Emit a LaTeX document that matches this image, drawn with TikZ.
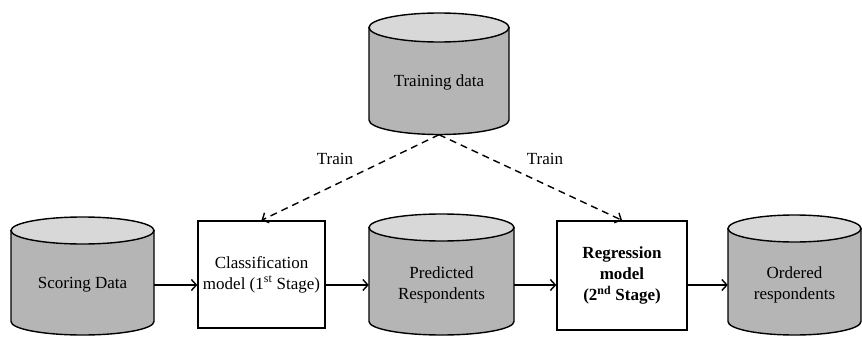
\documentclass[tikz,border=0pt]{standalone}
\usepackage{fontspec}
\setmainfont{Liberation Serif}
\usetikzlibrary{arrows.meta}
\definecolor{bodygray}{RGB}{181,181,181}
\definecolor{topgray}{RGB}{216,216,216}
\newcommand\drawcyl[5]{% cx, top-ellipse centre y, bottom-ellipse centre y, rx, ry
  \path[cylbody] (#1-#4,#2) -- (#1-#4,#3) arc[start angle=180,end angle=360,x radius=#4pt,y radius=#5pt] -- (#1+#4,#2) -- cycle;
  \path[cyltop] (#1,#2) ellipse[x radius=#4pt,y radius=#5pt];
}
\begin{document}
\begin{tikzpicture}[x=1pt,y=-1pt,
  cylbody/.style={draw=black,line width=1.4pt,fill=bodygray},
  cyltop/.style={draw=black,line width=1.4pt,fill=topgray},
  txt/.style={font=\fontsize{17}{21}\selectfont,align=center,inner sep=0pt,text=black},
  cyltext/.style={txt,minimum height=20pt},
  modelbox/.style={txt,draw=black,line width=1.4pt,fill=white},
  flow/.style={line width=1.4pt,-{Straight Barb[length=5pt,width=11pt,line width=1.4pt]}},
  trainflow/.style={flow,dash pattern=on 7pt off 5pt}]
\useasboundingbox (0,0) rectangle (862,337);
\drawcyl{439}{27.5}{120}{70}{14.5}
\drawcyl{82.5}{230.5}{321.5}{71.5}{13.5}
\drawcyl{441.5}{227.5}{321.5}{72.5}{13.5}
\drawcyl{794.5}{228.5}{321.5}{66.5}{13.5}
\node[txt,minimum width=140pt,minimum height=105pt] (train) at (439,82) {Training data};
\node[cyltext,minimum width=143pt] (score) at (82.5,285) {Scoring Data};
\node[cyltext,minimum width=145pt] (pred) at (441.5,285) {Predicted\\Respondents};
\node[cyltext,minimum width=133pt] (ord) at (794.5,285) {Ordered\\respondents};
\node[modelbox,minimum width=127pt,minimum height=107pt] (cls) at (261.5,274.5) {Classification\\model (1\textsuperscript{st} Stage)};
\node[modelbox,minimum width=130pt,minimum height=109pt,font=\fontsize{17}{21}\selectfont\bfseries] (reg) at (622,275.5) {Regression\\model\\(2\textsuperscript{nd} Stage)};
\draw[flow] (score.east) -- (score.east -| cls.west);
\draw[flow] (cls.east |- pred.west) -- (pred.west);
\draw[flow] (pred.east) -- (pred.east -| reg.west);
\draw[flow] (reg.east |- ord.west) -- (ord.west);
\draw[trainflow] (train.south) -- (cls.north);
\draw[trainflow] (train.south) -- (reg.north);
\node[txt] (t1) at (335,159) {Train};
\node[txt] (t2) at (545,159) {Train};
\end{tikzpicture}
\end{document}
